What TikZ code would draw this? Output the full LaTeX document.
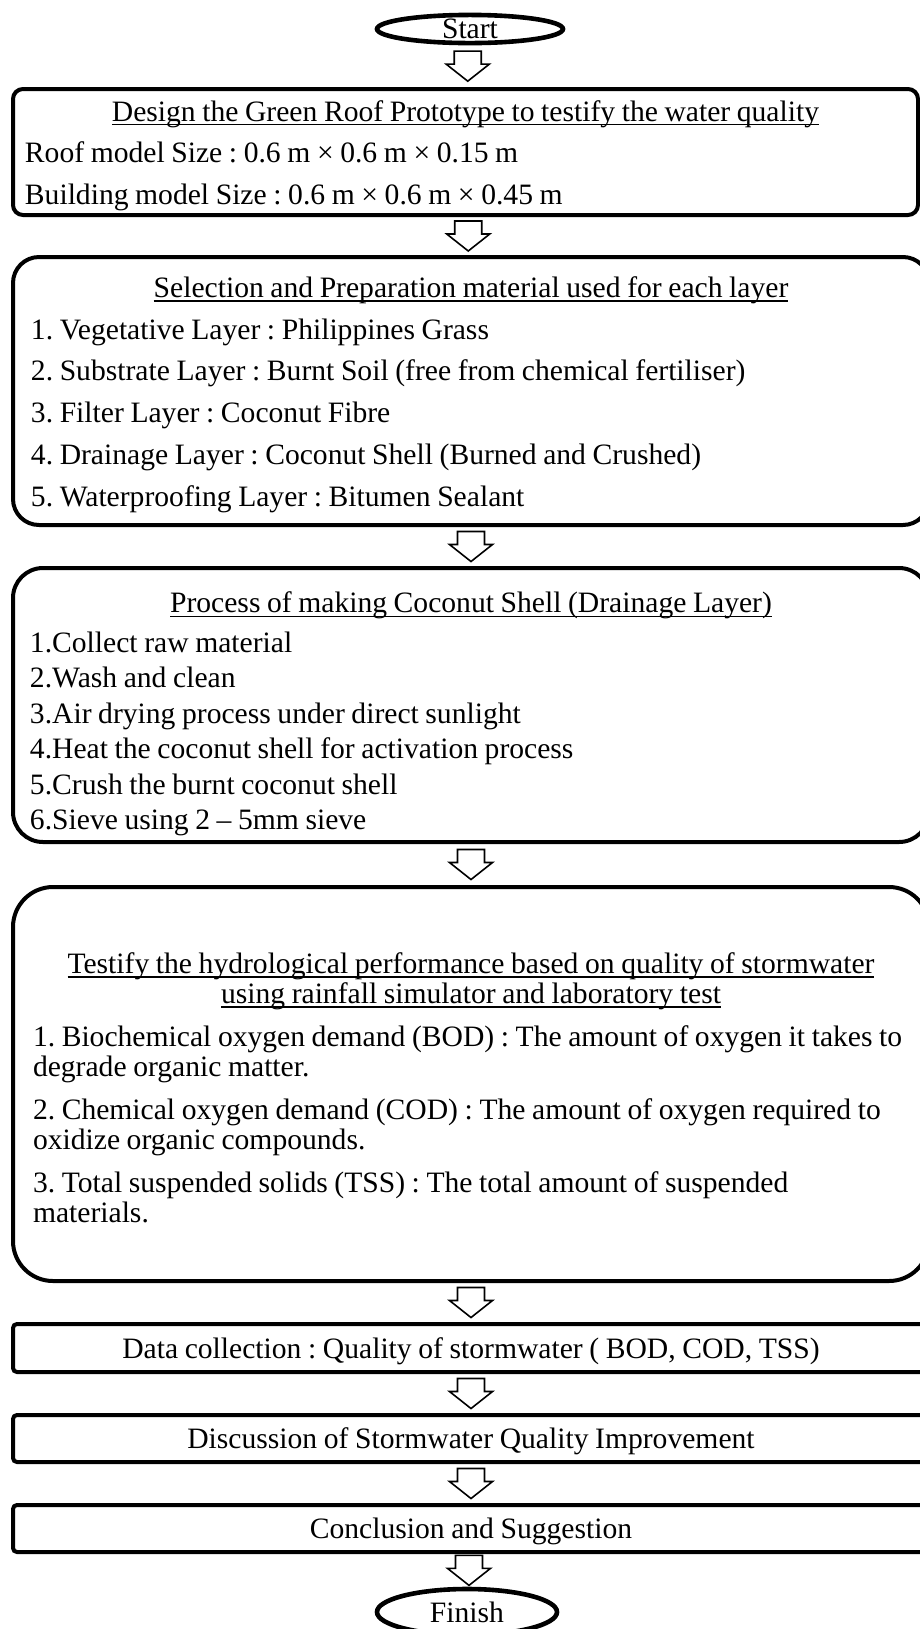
\documentclass[tikz,border=0pt]{standalone}
\usepackage{fontspec}
\setmainfont{Liberation Serif}
\usetikzlibrary{shapes.geometric}

\newcommand{\bodyfont}[1]{\fontsize{14.8}{#1}\selectfont}
% tight word spacing of the original
\newcommand{\tightspaces}{\spaceskip=3.3pt minus 0.3pt\relax}
\tikzset{
  stepbox/.style={draw, rectangle, line width=2pt, align=left, font=\bodyfont{20.9},
    execute at begin node={\tightspaces}, execute at end node={\par\vspace{-3.6pt}}},
  endpoint/.style={draw, ellipse, line width=2.3pt, inner sep=0pt, font=\bodyfont{16}},
  hollowarrow/.style={draw, fill=white, line width=0.8pt, line join=miter}
}
\newsavebox{\titlebox}
\newcommand{\ruled}[1]{\sbox{\titlebox}{\tightspaces#1}\rlap{\rule[-2.2pt]{\wd\titlebox}{0.7pt}}\usebox{\titlebox}}
\newcommand{\boxtitle}[1]{\makebox[\hsize]{\ruled{#1}}}
% block arrow between two stacked nodes
\newcommand{\flowarrow}[2]{%
  \path (#1.south) -- coordinate[midway] (#1-#2) (#2.north);
  \draw[hollowarrow] ([shift={(-13.5,-15)}]#1-#2) -- ++(27,0) -- ++(0,13) -- ++(8,0)
    -- ++(-21.5,17) -- ++(-21.5,-17) -- ++(8,0) -- cycle;
}
\frenchspacing

\begin{document}
\begin{tikzpicture}[x=0.5pt, y=-0.5pt]
\useasboundingbox (0,0) rectangle (920,1629);

% Start
\node[endpoint, minimum width=93pt, minimum height=13pt] (start) at (470,29) {Start};

% Prototype design
\node[stepbox, rounded corners=5pt, text width=440.5pt, inner xsep=6pt, minimum height=63pt] (design) at (465.5,152)
  {\boxtitle{Design the Green Roof Prototype to testify the water quality}\\
   Roof model Size : 0.6 m × 0.6 m × 0.15 m\\
   Building model Size : 0.6 m × 0.6 m × 0.45 m};

% Layer materials
\node[stepbox, rounded corners=13pt, text width=440pt, inner xsep=9pt, minimum height=134pt] (layers) at (471,391)
  {\boxtitle{Selection and Preparation material used for each layer}\\
   1. Vegetative Layer : Philippines Grass\\
   2. Substrate Layer : Burnt Soil (free from chemical fertiliser)\\
   3. Filter Layer : Coconut Fibre\\
   4. Drainage Layer : Coconut Shell (Burned and Crushed)\\
   5. Waterproofing Layer : Bitumen Sealant};

% Coconut shell process
\node[stepbox, rounded corners=15pt, text width=441pt, inner xsep=8.5pt, minimum height=137pt,
  font=\bodyfont{17.7}, execute at end node={\par\vspace{-5.2pt}}] (shell) at (471,705)
  {\boxtitle{Process of making Coconut Shell (Drainage Layer)}\\[2.3pt]
   1.Collect raw material\\
   2.Wash and clean\\
   3.Air drying process under direct sunlight\\
   4.Heat the coconut shell for activation process\\
   5.Crush the burnt coconut shell\\
   6.Sieve using 2 – 5mm sieve};

% Hydrological test
\node[stepbox, rounded corners=20pt, text width=438pt, inner xsep=10pt, minimum height=197pt,
  font=\bodyfont{14.9}] (test) at (471,1084)
  {\boxtitle{Testify the hydrological performance based on quality of stormwater}\\
   \boxtitle{using rainfall simulator and laboratory test}\\[6.7pt]
   1. Biochemical oxygen demand (BOD) : The amount of oxygen it takes to\\
   degrade organic matter.\\[6.9pt]
   2. Chemical oxygen demand (COD) : The amount of oxygen required to\\
   oxidize organic compounds.\\[6.5pt]
   3. Total suspended solids (TSS) : The total amount of suspended\\
   materials.};

% Remaining steps
\node[stepbox, rounded corners=2pt, align=center, text width=440pt, inner xsep=9pt, minimum height=24pt] (data) at (471,1348)
  {Data collection : Quality of stormwater ( BOD, COD, TSS)};
\node[stepbox, rounded corners=2pt, align=center, text width=440pt, inner xsep=9pt, minimum height=23.5pt] (discuss) at (471,1438.5)
  {Discussion of Stormwater Quality Improvement};
\node[stepbox, rounded corners=2pt, align=center, text width=440pt, inner xsep=9pt, minimum height=23.5pt] (conclude) at (471,1528.5)
  {Conclusion and Suggestion};

% Finish
\node[endpoint, minimum width=90pt, minimum height=23pt] (finish) at (467,1612) {Finish};

% Arrows
\flowarrow{start}{design}
\flowarrow{design}{layers}
\flowarrow{layers}{shell}
\flowarrow{shell}{test}
\flowarrow{test}{data}
\flowarrow{data}{discuss}
\flowarrow{discuss}{conclude}
\flowarrow{conclude}{finish}
\end{tikzpicture}
\end{document}
